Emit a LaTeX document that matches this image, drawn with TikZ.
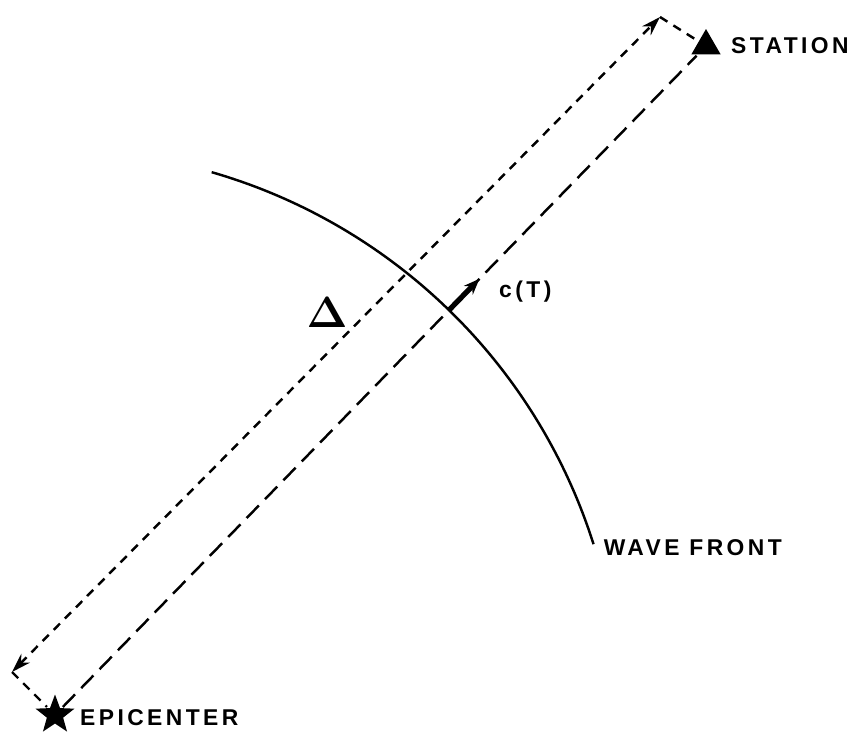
\documentclass[tikz,border=0pt]{standalone}
\usepackage{fontspec}
\usepackage{amsmath,amssymb}
\usetikzlibrary{positioning,shapes.geometric,arrows.meta,calc}
\newfontfamily\lblfont[LetterSpace=15]{Liberation Sans}

\begin{document}
\begin{tikzpicture}[x=0.02cm,y=-0.02cm,node distance=0.1cm,>={Stealth[length=11pt,width=7pt]},line width=1.4pt]
\tikzstyle{quake}=[star,star points=5,star point ratio=2.4,fill=black,inner sep=0pt,minimum size=0.82cm]
\tikzstyle{seis}=[regular polygon,regular polygon sides=3,fill=black,inner sep=0pt,minimum size=0.68cm]
\tikzstyle{lbl}=[font=\lblfont\bfseries\fontsize{13}{15}\selectfont,inner sep=0pt]
\tikzstyle{longdash}=[dash pattern=on 10pt off 5pt]
\tikzstyle{shortdash}=[dash pattern=on 5pt off 4pt]
\useasboundingbox (0,0) rectangle (858,743);
\node[quake] (epi) at (55,715) {};
\node[seis] (sta) at (706,46) {};
\node[lbl,right=0.48cm of epi.center,anchor=west,yshift=-0.06cm] {EPICENTER};
\node[lbl,right=0.48cm of sta.center,anchor=west] {STATION};
\coordinate (dtop) at (660,17);
\coordinate (dbot) at (12,672);
\draw[shortdash,<->] (dbot)--(dtop);
\draw[shortdash] (dtop)--(sta);
\draw[shortdash] (dbot)--(epi);
\draw[longdash] (epi)--(sta);
% wave front, centred on the epicentre
\draw (epi) ++(-73.9:565) arc (-73.9:-17.6:565) coordinate (wend);
\node[lbl,anchor=west] at ($(wend)+(9,3)$) {WAVE FRONT};
\coordinate (hit) at ($(epi)!0.606!(sta)$);
\coordinate (tip) at ($(epi)!0.652!(sta)$);
\draw[line width=3pt,-{Stealth[length=9pt,width=7pt]}] (hit)--(tip);
\node[lbl,anchor=west] at (498,292) {c(T)};
\node[font=\fontsize{24}{26}\selectfont\bfseries] (delta) at (327,313) {$\boldsymbol{\Delta}$};
\end{tikzpicture}
\end{document}
